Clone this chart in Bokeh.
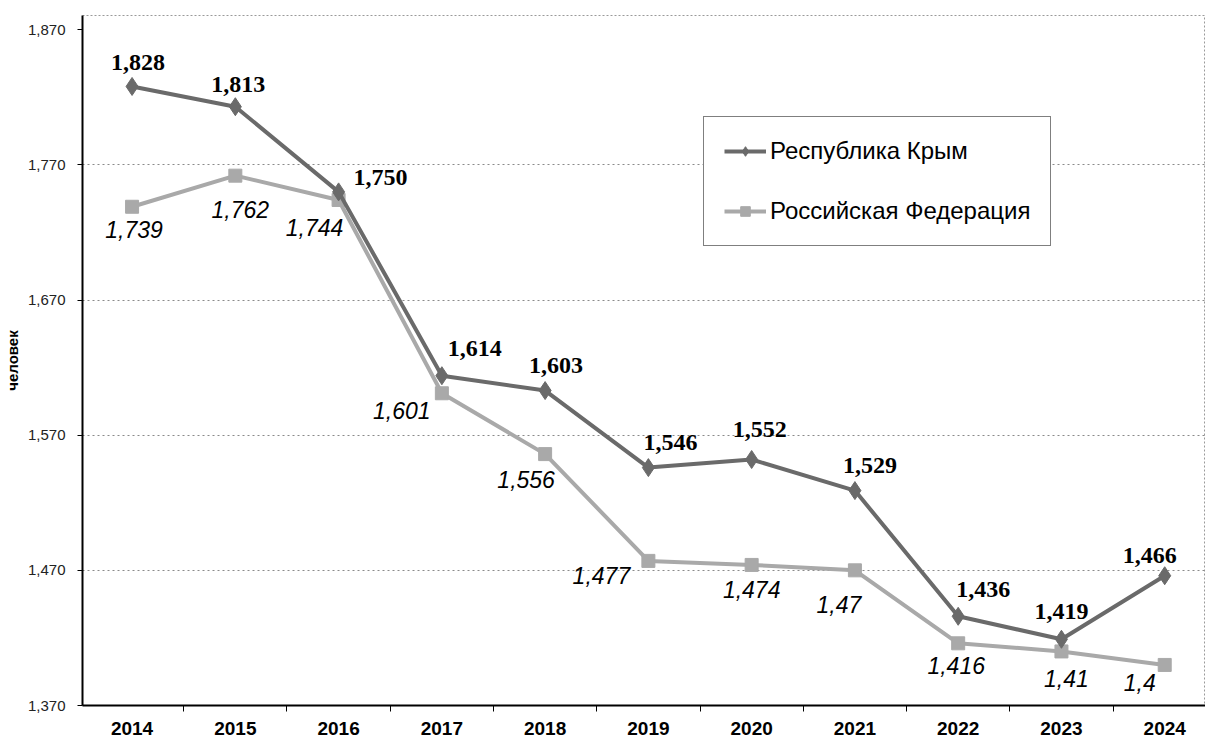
from bokeh.plotting import figure
from bokeh.models import ColumnDataSource, FixedTicker, Legend, LegendItem
from bokeh.core.properties import value
from bokeh.embed import file_html
from bokeh.resources import INLINE

years = ["2014", "2015", "2016", "2017", "2018", "2019", "2020", "2021", "2022", "2023", "2024"]
crimea = [1.828, 1.813, 1.750, 1.614, 1.603, 1.546, 1.552, 1.529, 1.436, 1.419, 1.466]
russia = [1.739, 1.762, 1.744, 1.601, 1.556, 1.477, 1.474, 1.470, 1.416, 1.410, 1.400]
y_ticks = [1.370, 1.470, 1.570, 1.670, 1.770, 1.870]
series_names = ["Республика Крым", "Российская Федерация"]
y_title = "человек"

# label placement (screen px offsets)
crimea_dx = [6, 3, 42, 33, 11, 22, 8, 15, 25, 0, -15]
crimea_dy = [-24, -22, -14, -27, -25, -25, -30, -25, -27, -28, -20]
russia_dx = [2, 5, -24, -40, -19, -47, 0, -16, -2, 5, -25]
russia_dy = [23, 34, 28, 17, 25, 15, 25, 34, 22, 27, 18]

xs = list(range(len(years)))
src_c = ColumnDataSource(dict(x=xs, y=crimea, lab=[f"{v:.3f}".replace(".", ",") for v in crimea],
                              dx=crimea_dx, dy=crimea_dy))
src_r = ColumnDataSource(dict(x=xs, y=russia, lab=[("%g" % v).replace(".", ",") for v in russia],
                              dx=russia_dx, dy=russia_dy))

p = figure(width=1205, height=739, output_backend="svg", toolbar_location=None,
           x_range=(-0.48, 10.395), y_range=(1.370, 1.8805),
           min_border_left=74, min_border_right=0, min_border_top=15, min_border_bottom=34)
p.background_fill_color = "white"
p.border_fill_color = "white"
p.outline_line_color = "#9a9a9a"
p.outline_line_dash = "2 2"
p.outline_line_width = 1

# grid
p.xgrid.visible = False
p.ygrid.ticker = FixedTicker(ticks=y_ticks[1:-1])
p.ygrid.grid_line_color = "#8a8a8a"
p.ygrid.grid_line_dash = "2 3"
p.ygrid.grid_line_width = 1

# x axis
p.xaxis.ticker = FixedTicker(ticks=xs, minor_ticks=[i - 0.5 for i in range(len(years) + 1)])
p.xaxis.major_label_overrides = {i: y for i, y in enumerate(years)}
p.xaxis.major_tick_out = 0
p.xaxis.major_tick_in = 0
p.xaxis.minor_tick_out = 6
p.xaxis.minor_tick_in = 0
p.xaxis.minor_tick_line_color = "black"
p.xaxis.axis_line_color = "black"
p.xaxis.axis_line_width = 2
p.xaxis.major_label_text_font = "Liberation Sans"
p.xaxis.major_label_text_font_style = "bold"
p.xaxis.major_label_text_font_size = "19px"
p.xaxis.major_label_text_color = "black"
p.xaxis.major_label_standoff = 10

# y axis
p.yaxis.ticker = FixedTicker(ticks=y_ticks)
p.yaxis.major_label_overrides = {t: f"{t:.3f}".replace(".", ",") for t in y_ticks}
p.yaxis.major_tick_out = 5
p.yaxis.major_tick_in = 0
p.yaxis.minor_tick_line_color = None
p.yaxis.axis_line_color = "black"
p.yaxis.axis_line_width = 2
p.yaxis.major_label_text_font = "Liberation Sans"
p.yaxis.major_label_text_font_size = "15px"
p.yaxis.major_label_text_color = "#222222"
p.yaxis.major_label_standoff = 12
p.yaxis.axis_label = y_title
p.yaxis.axis_label_text_font = "Liberation Sans"
p.yaxis.axis_label_text_font_size = "15px"
p.yaxis.axis_label_text_font_style = "bold"
p.yaxis.axis_label_text_color = "black"
p.yaxis.axis_label_standoff = 4

c_col = "#6a6a6a"
r_col = "#a9a9a9"

lr = p.line("x", "y", source=src_r, line_color=r_col, line_width=4)
sr = p.scatter("x", "y", source=src_r, marker="square", size=13, fill_color=r_col, line_color=r_col)
lc = p.line("x", "y", source=src_c, line_color=c_col, line_width=4)
sc = p.scatter("x", "y", source=src_c, marker="diamond", size=18, fill_color=c_col, line_color=c_col)

p.text("x", "y", text="lab", source=src_c, x_offset="dx", y_offset="dy",
       text_font=value("Liberation Serif"), text_font_style="bold", text_font_size="24px",
       text_align="center", text_baseline="middle", text_color="black")
p.text("x", "y", text="lab", source=src_r, x_offset="dx", y_offset="dy",
       text_font=value("Liberation Sans"), text_font_style="italic", text_font_size="23px",
       text_align="center", text_baseline="middle", text_color="black")

legend = Legend(items=[LegendItem(label=series_names[0], renderers=[lc, sc]),
                       LegendItem(label=series_names[1], renderers=[lr, sr])],
                location=(621, 459))
legend.label_text_font = "Liberation Sans"
legend.label_text_font_size = "24px"
legend.label_text_color = "black"
legend.glyph_width = 42
legend.glyph_height = 24
legend.label_height = 24
legend.spacing = 32
legend.padding = 20
legend.margin = 0
legend.label_standoff = 4
legend.border_line_color = "black"
legend.border_line_width = 1.5
legend.background_fill_color = "white"
legend.background_fill_alpha = 1
p.add_layout(legend, "center")

open("out.html", "w").write(file_html(p, INLINE))
